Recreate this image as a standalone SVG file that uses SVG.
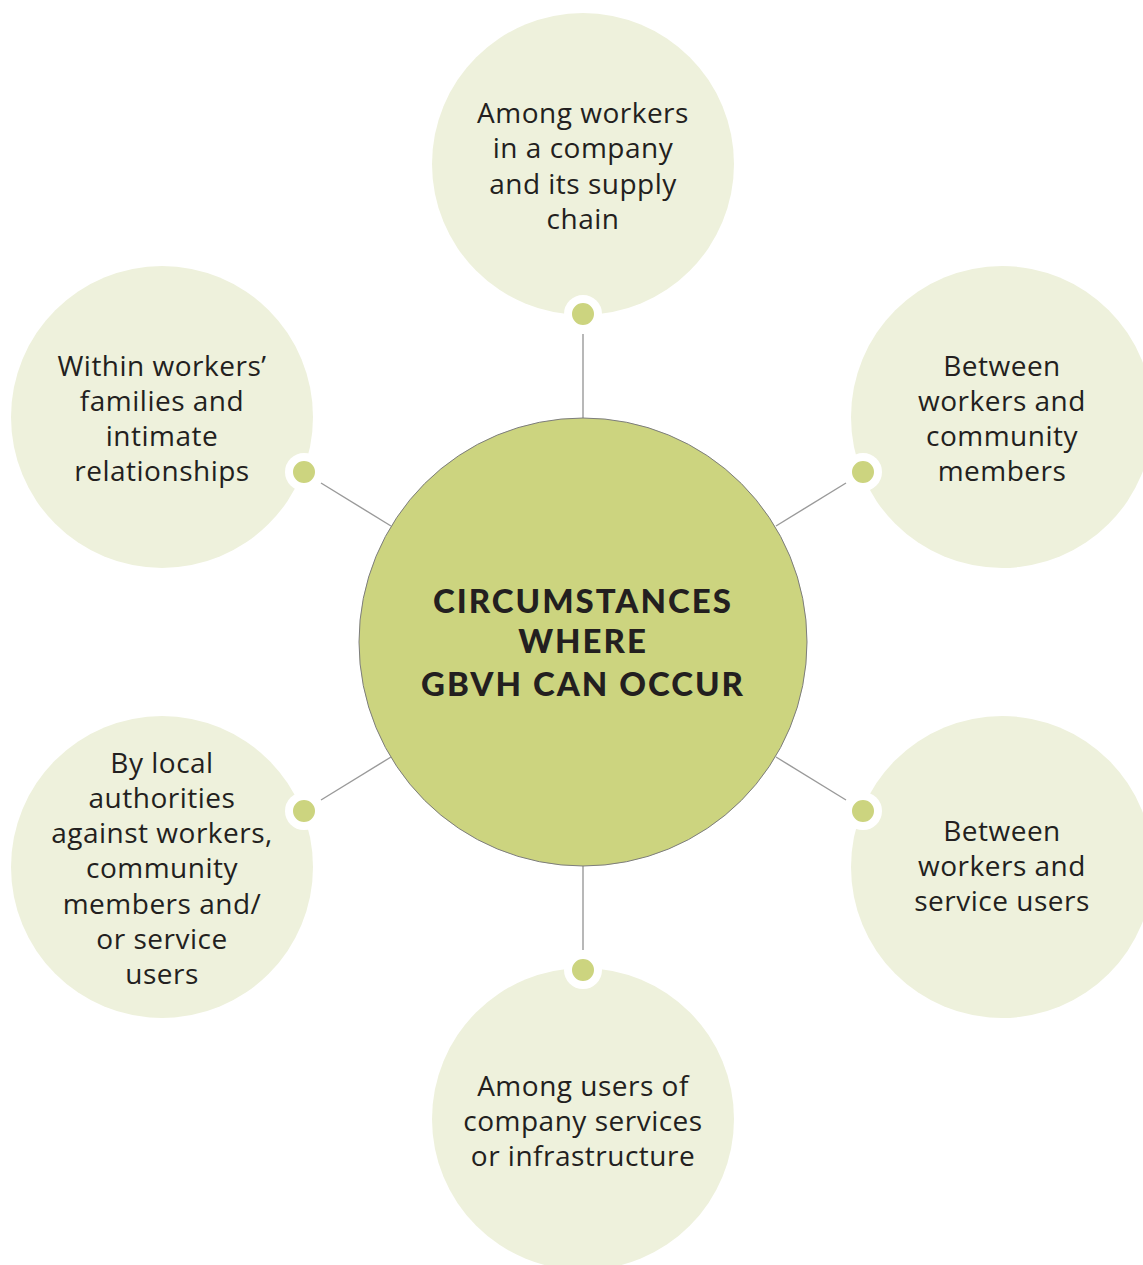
<svg xmlns="http://www.w3.org/2000/svg" width="1143" height="1265" viewBox="0 0 1143 1265">
<style>
.outer{fill:#eef1dc}
.dot{fill:#ccd47f;stroke:#ffffff;stroke-width:8}
.conn{stroke:#9a9a9a;stroke-width:1.4;fill:none}
.t{font-family:"Open Sans","Liberation Sans",sans-serif;font-size:28px;letter-spacing:0.5px;fill:#231f20;text-anchor:middle}
.c{font-family:Lato,"Open Sans","Liberation Sans",sans-serif;font-weight:900;font-size:33px;letter-spacing:2px;fill:#231f20;text-anchor:middle}
</style>
<rect width="1143" height="1265" fill="#ffffff"/>
<g id="connectors">
<line class="conn" x1="583" y1="334" x2="583" y2="418"/>
<line class="conn" x1="321" y1="483" x2="391" y2="526"/>
<line class="conn" x1="846" y1="483" x2="776" y2="526"/>
<line class="conn" x1="321" y1="800" x2="391" y2="757"/>
<line class="conn" x1="846" y1="800" x2="776" y2="757"/>
<line class="conn" x1="583" y1="866" x2="583" y2="950"/>
</g>
<g id="center">
<circle cx="583" cy="642" r="224" fill="#ccd47f" stroke="#7d7d7d" stroke-width="1"/>
<text class="c" x="583" y="613">CIRCUMSTANCES</text>
<text class="c" x="583" y="653">WHERE</text>
<text class="c" x="583" y="696">GBVH CAN OCCUR</text>
</g>
<g id="node-top">
<circle class="outer" cx="583" cy="164" r="151"/>
<circle class="dot" cx="583" cy="314" r="15"/>
<text class="t" x="583" y="123">Among workers</text>
<text class="t" x="583" y="158">in a company</text>
<text class="t" x="583" y="194">and its supply</text>
<text class="t" x="583" y="229">chain</text>
</g>
<g id="node-left-top">
<circle class="outer" cx="162" cy="417" r="151"/>
<circle class="dot" cx="304" cy="472" r="15"/>
<text class="t" x="162" y="376">Within workers’</text>
<text class="t" x="162" y="411">families and</text>
<text class="t" x="162" y="446">intimate</text>
<text class="t" x="162" y="481">relationships</text>
</g>
<g id="node-right-top">
<circle class="outer" cx="1002" cy="417" r="151"/>
<circle class="dot" cx="863" cy="472" r="15"/>
<text class="t" x="1002" y="376">Between</text>
<text class="t" x="1002" y="411">workers and</text>
<text class="t" x="1002" y="446">community</text>
<text class="t" x="1002" y="481">members</text>
</g>
<g id="node-left-bottom">
<circle class="outer" cx="162" cy="867" r="151"/>
<circle class="dot" cx="304" cy="811" r="15"/>
<text class="t" x="162" y="773">By local</text>
<text class="t" x="162" y="808">authorities</text>
<text class="t" x="162" y="843">against workers,</text>
<text class="t" x="162" y="878">community</text>
<text class="t" x="162" y="914">members and/</text>
<text class="t" x="162" y="949">or service</text>
<text class="t" x="162" y="984">users</text>
</g>
<g id="node-right-bottom">
<circle class="outer" cx="1002" cy="867" r="151"/>
<circle class="dot" cx="863" cy="811" r="15"/>
<text class="t" x="1002" y="841">Between</text>
<text class="t" x="1002" y="876">workers and</text>
<text class="t" x="1002" y="911">service users</text>
</g>
<g id="node-bottom">
<circle class="outer" cx="583" cy="1119" r="151"/>
<circle class="dot" cx="583" cy="970" r="15"/>
<text class="t" x="583" y="1096">Among users of</text>
<text class="t" x="583" y="1131">company services</text>
<text class="t" x="583" y="1166">or infrastructure</text>
</g>
</svg>
